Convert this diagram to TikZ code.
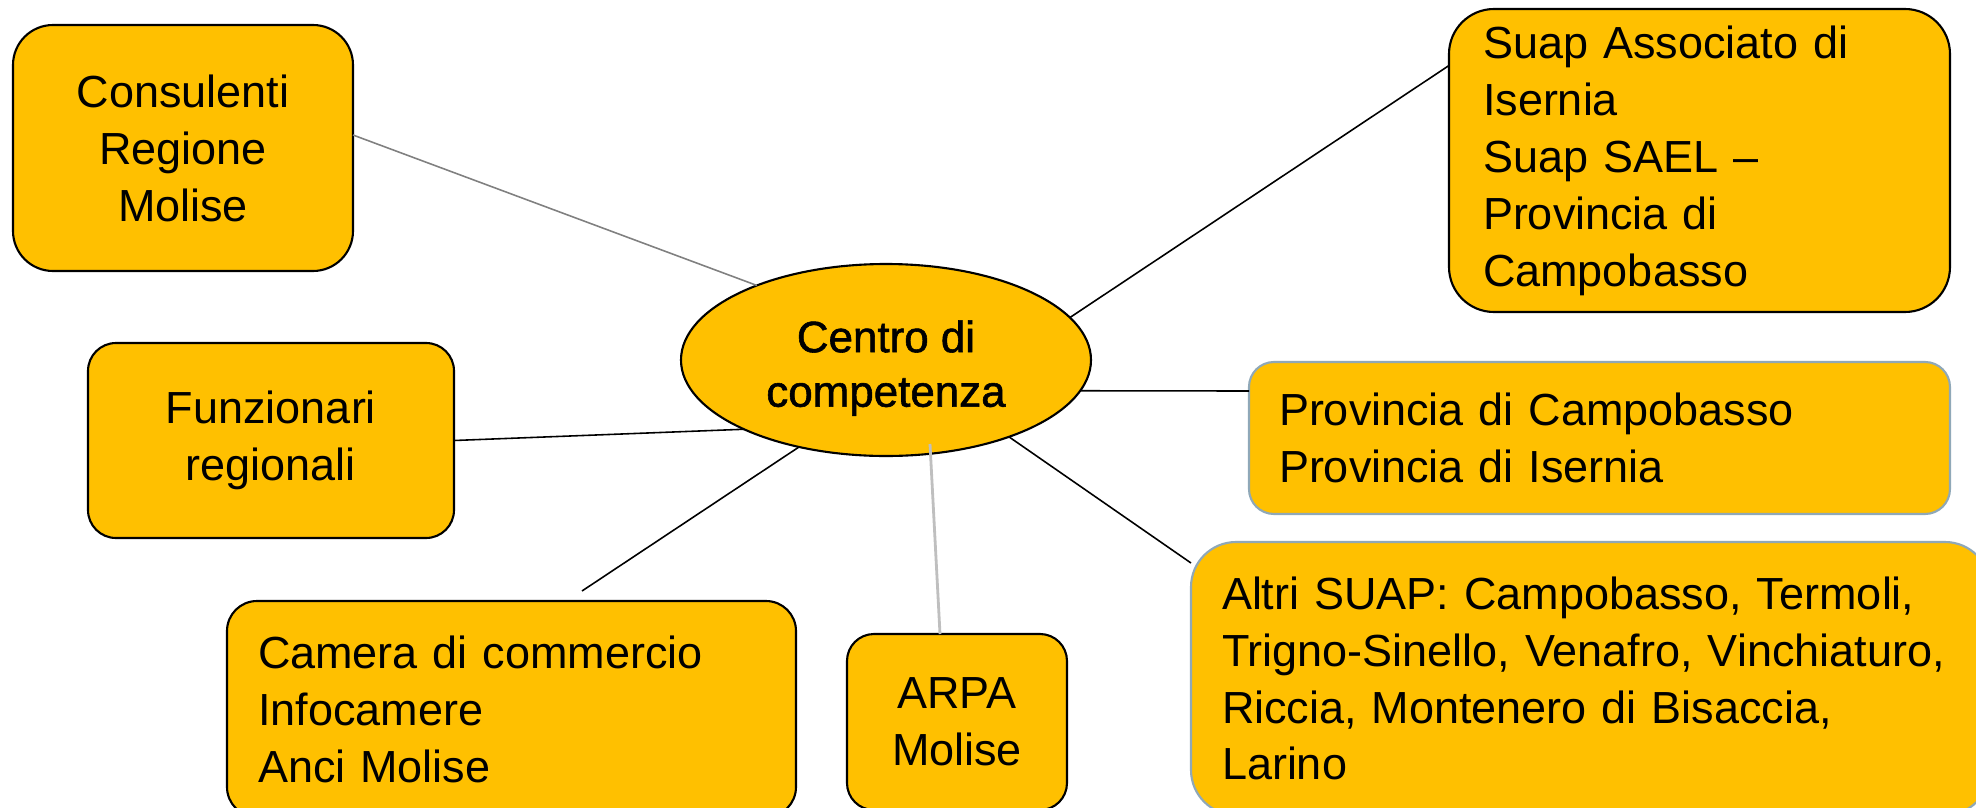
\documentclass[tikz,border=0pt]{standalone}
\usepackage{fontspec}
\setmainfont{Liberation Sans}
\newfontfamily\centrofont{Liberation Sans}[FakeBold=1.3]
\usetikzlibrary{shapes.geometric}
\definecolor{gold}{HTML}{FFC000}
\definecolor{slateline}{HTML}{8FA8B8}

\begin{document}
\begin{tikzpicture}[
  box/.style={draw=black, line width=0.6pt, fill=gold, rounded corners=0.3cm, outer sep=0pt, inner sep=0pt, align=center, font=\fontsize{12.8pt}{16.2pt}\selectfont},
  listbox/.style={box, align=left, inner xsep=0.31cm},
  link/.style={draw=black, line width=0.45pt}]
\useasboundingbox (0,0) rectangle (19.76,-8.08);
\node[box, minimum width=3.40cm, minimum height=2.46cm, rounded corners=0.4cm] (cons) at (1.83,-1.48) {Consulenti\\Regione\\Molise};
\node[box, minimum width=3.66cm, minimum height=1.95cm, rounded corners=0.28cm] (funz) at (2.71,-4.405) {Funzionari\\regionali};
\node[listbox, text width=5.07cm, minimum height=2.16cm] (camera) at (5.115,-7.09) {Camera di commercio\\Infocamere\\Anci Molise};
\node[box, minimum width=2.20cm, minimum height=1.76cm, rounded corners=0.27cm] (arpa) at (9.57,-7.22) {ARPA\\Molise};
\node[ellipse, draw, line width=0.6pt, fill=gold, minimum width=4.10cm, minimum height=1.92cm, inner sep=0pt, outer sep=0pt, align=center, font=\centrofont\fontsize{12.5pt}{15.5pt}\selectfont] (centro) at (8.86,-3.60) {\rule{0pt}{0.48cm}Centro di\\competenza};
\node[listbox, inner xsep=0.34cm, text width=4.33cm, minimum height=3.03cm, rounded corners=0.45cm] (suap) at (16.995,-1.605) {Suap Associato di\\Isernia\\Suap SAEL –\\Provincia di\\Campobasso};
\node[listbox, draw=slateline, inner xsep=0.30cm, text width=6.41cm, minimum height=1.52cm, rounded corners=0.25cm] (prov) at (15.995,-4.38) {Provincia di Campobasso\\Provincia di Isernia};
\node[listbox, draw=slateline, text width=7.37cm, minimum height=2.73cm, rounded corners=0.45cm] (altri) at (15.905,-6.785) {Altri SUAP: Campobasso, Termoli,\\Trigno-Sinello, Venafro, Vinchiaturo,\\Riccia, Montenero di Bisaccia,\\Larino};
\coordinate (camtop) at (5.82,-5.91);
\draw[link, draw=gray] ([yshift=0.13cm]cons.east) -- (centro.150);
\draw[link] (funz.east) -- (centro.-154);
\draw[link] (centro.-135) -- (camtop);
\draw[link, draw=lightgray, line width=0.8pt] ([shift={(0.44cm,-0.84cm)}]centro.center) -- ([xshift=-0.17cm]arpa.north);
\draw[link] (centro.13) -- ([yshift=0.95cm]suap.west);
\draw[link] (centro.-9) -- ([yshift=0.47cm]prov.west);
\draw[link] (centro.-32) -- ([yshift=-0.21cm]altri.north west);
\end{tikzpicture}
\end{document}
